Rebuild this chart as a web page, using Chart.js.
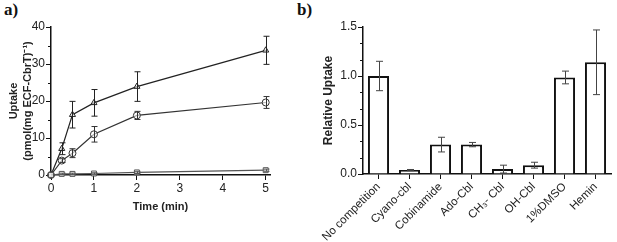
<!DOCTYPE html>
<html>
<head>
<meta charset="utf-8">
<script src="https://cdn.jsdelivr.net/npm/chart.js@4"></script>
<style>
  html, body { margin: 0; padding: 0; background: #fff; width: 617px; height: 242px; overflow: hidden; }
  .panel { position: absolute; top: 0; height: 242px; }
  #panelA { left: 0; width: 300px; }
  #panelB { left: 300px; width: 317px; }
  .lab { position: absolute; top: 0; font: bold 17px "Liberation Serif", serif; color: #111; }
</style>
</head>
<body>
<div class="lab" style="left:4px">a)</div>
<div class="lab" style="left:297px">b)</div>
<div class="panel" id="panelA"><canvas id="uptakeChart" width="300" height="242"></canvas></div>
<div class="panel" id="panelB"><canvas id="competitionChart" width="317" height="242"></canvas></div>
<script>
// panel a: uptake over time
const times = [0, 0.25, 0.5, 1, 2, 5];
const uptakeTriangle = [0, 7.1, 16.3, 19.5, 23.9, 33.7];
const errTriangle = [0, 1.6, 3.6, 3.6, 4.0, 3.8];
const uptakeCircle = [0, 3.9, 5.9, 11.0, 16.1, 19.6];
const errCircle = [0, 0.5, 1.2, 2.1, 1.1, 1.6];
const uptakeSquare = [0, 0.3, 0.3, 0.4, 0.7, 1.3];
const errSquare = [0, 0.2, 0.2, 0.2, 0.3, 0.3];
const timeTicks = [0, 1, 2, 3, 4, 5];
const uptakeTicks = [0, 10, 20, 30, 40];
const uptakeMinor = [5, 15, 25, 35];

// panel b: competition
const competitors = ["No competition", "Cyano-cbl", "Cobinamide", "Ado-Cbl", "CH\u2083- Cbl", "OH-Cbl", "1%DMSO", "Hemin"];
const relativeUptake = [1.0, 0.04, 0.30, 0.30, 0.05, 0.09, 0.985, 1.14];
const relativeErr = [0.15, 0.006, 0.075, 0.022, 0.04, 0.03, 0.065, 0.33];
const relativeTicks = [0, 0.5, 1.0, 1.5];
const relativeMinor = [1/6, 2/6, 4/6, 5/6, 7/6, 8/6];

const FONT = "'Liberation Sans', Arial, sans-serif";
Chart.defaults.font.family = FONT;
Chart.defaults.color = "#222";

// error bars drawn from the dataset's own errors array
const errorBarPlugin = {
  id: "errorBars",
  afterDatasetsDraw(chart) {
    const ctx = chart.ctx;
    chart.data.datasets.forEach((ds, i) => {
      if (!ds.errors) return;
      const meta = chart.getDatasetMeta(i);
      const yScale = chart.scales[meta.yAxisID];
      ctx.save();
      ctx.strokeStyle = ds.errorColor || "#333";
      ctx.lineWidth = 1;
      meta.data.forEach((el, j) => {
        const err = ds.errors[j];
        if (!err) return;
        const v = typeof ds.data[j] === "object" ? ds.data[j].y : ds.data[j];
        const x = Math.round(el.x) + 0.5;
        const top = yScale.getPixelForValue(v + err);
        const bot = yScale.getPixelForValue(v - err);
        const cap = ds.capWidth || 3;
        ctx.beginPath();
        ctx.moveTo(x, top); ctx.lineTo(x, bot);
        ctx.moveTo(x - cap, top); ctx.lineTo(x + cap, top);
        ctx.moveTo(x - cap, bot); ctx.lineTo(x + cap, bot);
        ctx.stroke();
      });
      ctx.restore();
    });
  }
};

// short minor ticks on the y axis
const minorTickPlugin = {
  id: "minorTicks",
  afterDraw(chart, args, opts) {
    if (!opts.values) return;
    const ctx = chart.ctx;
    const y = chart.scales.y;
    const left = chart.chartArea.left;
    ctx.save();
    ctx.strokeStyle = "#111";
    ctx.lineWidth = 1;
    opts.values.forEach(v => {
      const p = Math.round(y.getPixelForValue(v)) + 0.5;
      ctx.beginPath();
      ctx.moveTo(left - 3, p); ctx.lineTo(left, p);
      ctx.stroke();
    });
    ctx.restore();
  }
};

function series(values) {
  return values.map((v, i) => ({ x: times[i], y: v }));
}

function lineSet(values, errors, style, color) {
  return {
    data: series(values),
    errors: errors,
    errorColor: color,
    showLine: true,
    borderColor: color,
    borderWidth: 1.2,
    pointStyle: style,
    pointRadius: 3.5,
    pointBackgroundColor: "rgba(255,255,255,0.6)",
    pointBorderColor: color,
    pointBorderWidth: 1,
    clip: false
  };
}

new Chart(document.getElementById("uptakeChart"), {
  type: "scatter",
  data: {
    datasets: [
      lineSet(uptakeSquare, errSquare, "rect", "#555"),
      lineSet(uptakeCircle, errCircle, "circle", "#333"),
      lineSet(uptakeTriangle, errTriangle, "triangle", "#222")
    ]
  },
  options: {
    responsive: false,
    animation: false,
    layout: { padding: { left: 0, top: 27, right: 30, bottom: 0 } },
    plugins: {
      legend: { display: false },
      tooltip: { enabled: false },
      minorTicks: { values: uptakeMinor }
    },
    scales: {
      x: {
        type: "linear",
        min: 0,
        max: 5.1,
        afterBuildTicks: s => { s.ticks = timeTicks.map(v => ({ value: v })); },
        afterFit: s => { s.height = 67; },
        border: { color: "#111", width: 1.5 },
        grid: { drawOnChartArea: false, tickLength: 5, color: "#111" },
        ticks: { padding: 1, font: { size: 12 }, color: "#222" },
        title: { display: true, text: "Time (min)", font: { size: 11, weight: "bold" }, color: "#222", padding: { top: 0, bottom: 28 } }
      },
      y: {
        min: 0,
        max: 40,
        afterBuildTicks: s => { s.ticks = uptakeTicks.map(v => ({ value: v })); },
        afterFit: s => { s.width = 51; },
        border: { color: "#111", width: 1.5 },
        grid: { drawOnChartArea: false, tickLength: 5, color: "#111" },
        ticks: { padding: 1, font: { size: 12 }, color: "#222" },
        title: { display: true, text: ["Uptake", "(pmol(mg ECF-CbrT)\u207B\u00B9)"], font: { size: 11, weight: "bold", lineHeight: 1.3 }, color: "#222", padding: { top: 7 } }
      }
    }
  },
  plugins: [errorBarPlugin, minorTickPlugin]
});

new Chart(document.getElementById("competitionChart"), {
  type: "bar",
  data: {
    labels: competitors,
    datasets: [{
      data: relativeUptake,
      errors: relativeErr,
      errorColor: "#444",
      capWidth: 3.5,
      backgroundColor: "#fff",
      borderColor: "#111",
      borderWidth: 2,
      categoryPercentage: 1,
      barPercentage: 0.68
    }]
  },
  options: {
    responsive: false,
    animation: false,
    layout: { padding: { left: 0, top: 27, right: 6, bottom: 0 } },
    plugins: {
      legend: { display: false },
      tooltip: { enabled: false },
      minorTicks: { values: relativeMinor }
    },
    scales: {
      x: {
        afterFit: s => { s.height = 68; },
        border: { color: "#111", width: 1.5 },
        grid: { drawOnChartArea: false, offset: false, tickLength: 5, color: "#111" },
        ticks: { padding: 1, font: { size: 11.5 }, color: "#222", minRotation: 45, maxRotation: 45, autoSkip: false }
      },
      y: {
        min: 0,
        max: 1.5,
        afterBuildTicks: s => { s.ticks = relativeTicks.map(v => ({ value: v })); },
        afterFit: s => { s.width = 63; },
        border: { color: "#111", width: 1.5 },
        grid: { drawOnChartArea: false, tickLength: 5, color: "#111" },
        ticks: { padding: 1, font: { size: 12 }, color: "#222", callback: v => v.toFixed(1) },
        title: { display: true, text: "Relative Uptake", font: { size: 12, weight: "bold" }, color: "#222", padding: { top: 21 } }
      }
    }
  },
  plugins: [errorBarPlugin, minorTickPlugin]
});
</script>
</body>
</html>
